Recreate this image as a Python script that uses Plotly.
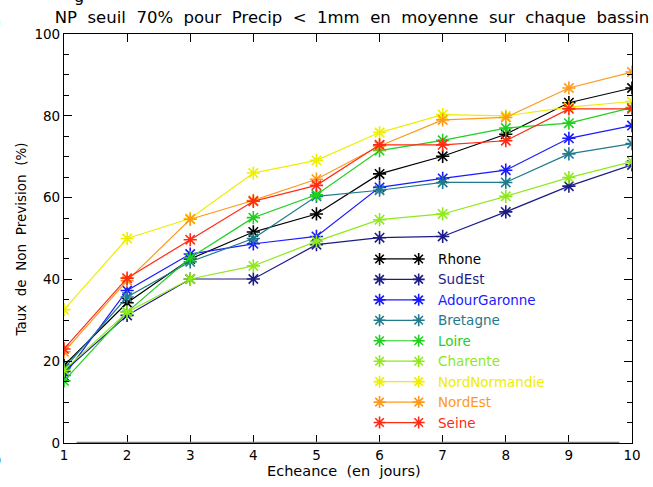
import plotly.graph_objects as go

days = [1, 2, 3, 4, 5, 6, 7, 8, 9, 10]

series_names = ["Rhone", "SudEst", "AdourGaronne", "Bretagne", "Loire",
                "Charente", "NordNormandie", "NordEst", "Seine"]

rhone = [19.0, 34.3, 45.0, 51.6, 56.0, 65.8, 70.1, 75.5, 83.2, 86.8]
sudest = [17.5, 31.2, 40.1, 40.1, 48.5, 50.2, 50.5, 56.5, 62.8, 68.0]
adourgaronne = [16.5, 37.3, 46.2, 48.7, 50.5, 62.5, 64.7, 66.7, 74.5, 77.6]
bretagne = [18.2, 35.7, 44.3, 50.0, 60.3, 61.8, 63.7, 63.7, 70.7, 73.2]
loire = [15.2, 32.0, 45.3, 55.1, 60.7, 71.5, 74.0, 77.0, 78.2, 82.0]
charente = [17.8, 32.0, 40.1, 43.3, 49.3, 54.6, 56.0, 60.3, 64.9, 68.8]
nordnormandie = [32.6, 50.0, 54.9, 66.0, 69.1, 75.9, 80.3, 80.0, 82.1, 83.5]
nordest = [22.3, 39.7, 54.7, 59.3, 64.5, 72.6, 79.0, 79.6, 86.8, 90.7]
seine = [23.0, 40.3, 49.7, 59.1, 63.0, 72.9, 72.9, 73.9, 81.7, 81.7]

series_values = [rhone, sudest, adourgaronne, bretagne, loire,
                 charente, nordnormandie, nordest, seine]

colors = ["#000000", "#1c1c86", "#1a1aff", "#1f7a8c", "#1fd01f",
          "#8eea1a", "#eeee00", "#ff991a", "#ff2a14"]

y_ticks = [0, 20, 40, 60, 80, 100]
x_ticks = days

# legend rows (data units, as placed by the original plotting routine)
legend_rows = [45, 40, 35, 30, 25, 20, 15, 10, 5]
legend_x = [6.0, 6.62]
legend_text_x = 6.9

FONT = "DejaVu Sans"
SP = "\u00a0\u00a0"  # wide word spacing like the original vector font

fig = go.Figure()

for name, vals, col in zip(series_names, series_values, colors):
    fig.add_trace(go.Scatter(
        x=days, y=vals, mode="lines+markers", name=name,
        line=dict(color=col, width=1.2),
        marker=dict(symbol="asterisk-open", size=11,
                    line=dict(color=col, width=1.6)),
        showlegend=False, hoverinfo="skip"))

annotations = []
for name, row, col in zip(series_names, legend_rows, colors):
    fig.add_trace(go.Scatter(
        x=legend_x, y=[row, row], mode="lines+markers",
        line=dict(color=col, width=1.2),
        marker=dict(symbol="asterisk-open", size=10,
                    line=dict(color=col, width=1.6)),
        showlegend=False, hoverinfo="skip", cliponaxis=False))
    annotations.append(dict(
        x=legend_text_x, y=row, xref="x", yref="y", text=name,
        showarrow=False, xanchor="left", yanchor="middle",
        font=dict(family=FONT, size=13.5, color=col)))

# axis titles
annotations.append(dict(
    x=(20 - 64) / 576, y=(443 - 240) / 409, xref="paper", yref="paper",
    text=SP.join("Taux de Non Prevision (%)".split(" ")), textangle=-90,
    showarrow=False, xanchor="center", yanchor="middle",
    font=dict(family=FONT, size=13.5, color="black")))
annotations.append(dict(
    x=(348 - 64) / 576, y=(443 - 471) / 409, xref="paper", yref="paper",
    text=SP.join("Echeance (en jours)".split(" ")), showarrow=False,
    xanchor="center", yanchor="middle",
    font=dict(family=FONT, size=14.5, color="black")))
# clipped fragments of neighbouring panels
annotations.append(dict(
    x=(79 - 64) / 576, y=(443 + 3) / 409, xref="paper", yref="paper",
    text="g", showarrow=False, xanchor="center", yanchor="middle",
    font=dict(family=FONT, size=16, color="black")))
annotations.append(dict(
    x=(-4 - 64) / 576, y=(443 - 21) / 409, xref="paper", yref="paper",
    text="n", showarrow=False, xanchor="center", yanchor="middle",
    font=dict(family=FONT, size=14, color="black")))
annotations.append(dict(
    x=(-2 - 64) / 576, y=(443 - 460) / 409, xref="paper", yref="paper",
    text=")", showarrow=False, xanchor="center", yanchor="middle",
    font=dict(family=FONT, size=14, color="black")))

title_text = SP.join("NP seuil 70% pour Precip < 1mm en moyenne sur chaque bassin".split(" "))

fig.update_layout(
    width=653, height=487,
    margin=dict(l=64, r=13, t=34, b=44),
    paper_bgcolor="white", plot_bgcolor="white",
    font=dict(family=FONT, size=13, color="black"),
    title=dict(text=title_text,
               x=352 / 653, xanchor="center", y=1 - 17 / 487, yanchor="middle",
               font=dict(family=FONT, size=16.5, color="black")),
    annotations=annotations,
    showlegend=False,
    shapes=[dict(type="line", xref="x", yref="y", x0=1.2, x1=9.8, y0=0, y1=0,
                 line=dict(color="#7c7c7c", width=2.5), layer="above")],
)

fig.update_xaxes(
    range=[1, 10], tickvals=x_ticks, ticktext=[str(t) for t in x_ticks],
    showgrid=False, zeroline=False, showline=True, linecolor="black",
    linewidth=1.2, mirror="allticks", ticks="inside", ticklen=8,
    tickcolor="black", tickfont=dict(family=FONT, size=13.5))
fig.update_yaxes(
    range=[0, 100], tickvals=y_ticks, ticktext=[str(t) for t in y_ticks],
    showgrid=False, zeroline=False, showline=True, linecolor="black",
    linewidth=1.2, mirror="allticks", ticks="inside", ticklen=8,
    tickcolor="black", tickfont=dict(family=FONT, size=13.5),
    minor=dict(ticks="inside", dtick=5, ticklen=5, tickcolor="black",
               showgrid=False))

fig.write_html(
    "out.html",
    config={"displayModeBar": False},
    post_script="document.body.style.margin='0px';"
                "document.body.style.overflow='hidden';")
